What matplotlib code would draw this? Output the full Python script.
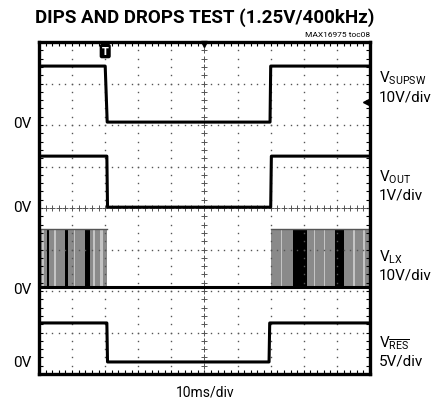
import numpy as np
import matplotlib
matplotlib.use('Agg')
import matplotlib.pyplot as plt
from matplotlib.ticker import MultipleLocator

plt.rcParams['font.family'] = ['Roboto', 'DejaVu Sans']
plt.rcParams['mathtext.fontset'] = 'custom'
plt.rcParams['mathtext.rm'] = 'Roboto'

# traces, x in divisions (10ms/div), y in screen divisions from the bottom
t_sup = [0, 2.0, 2.06, 6.98, 7.0, 10]
v_sup = [7.42, 7.42, 6.07, 6.07, 7.42, 7.42]
t_out = [0, 2.05, 2.07, 7.0, 7.02, 10]
v_out = [5.25, 5.25, 4.02, 4.02, 5.25, 5.25]
t_res = [0, 2.05, 2.07, 6.95, 6.97, 10]
v_res = [1.23, 1.23, 0.29, 0.29, 1.23, 1.23]

# LX switching node: bursts of switching between low and top level
lx_low = 2.10
lx_top = 3.49
lx_bursts = [(0.0, 2.05), (7.0, 10.0)]
lx_dark = [(0.24, 0.30), (0.79, 0.88), (1.39, 1.54), (7.67, 8.10), (8.94, 9.20)]
lx_light = [(0.10, 0.14), (0.45, 0.50), (1.05, 1.10), (1.62, 1.70), (1.85, 1.92),
            (7.30, 7.35), (8.30, 8.34), (8.60, 8.65), (9.50, 9.55), (9.80, 9.85)]

zero_levels = [6.05, 4.02, 2.05, 0.3]
ch_labels = [(r'V$_{\mathregular{SUPSW}}$', '10V/div', 78),
             (r'V$_{\mathregular{OUT}}$', '1V/div', 177),
             (r'V$_{\mathregular{LX}}$', '10V/div', 257),
             (r'V$_{\overline{\mathregular{RES}}}$', '5V/div', 343)]

W, H = 435, 410
fig = plt.figure(figsize=(W / 100, H / 100), dpi=100)
ax = fig.add_axes([39 / W, (H - 375) / H, 331 / W, 332 / H])
ax.set_xlim(0, 10)
ax.set_ylim(0, 8)

# graticule
dots = np.arange(0, 10.01, 0.2)
yy = np.arange(0, 8.01, 0.2)
for gx in range(1, 10):
    if gx != 5:
        ax.plot([gx] * len(yy), yy, ls='none', marker='s', ms=1.0, color='#555555', mec='none')
for gy in range(1, 8):
    if gy != 4:
        ax.plot(dots, [gy] * len(dots), ls='none', marker='s', ms=1.0, color='#555555', mec='none')
ax.plot([5] * len(yy), yy, ls='none', marker='+', ms=4, mew=0.7, color='#555555')
ax.plot(dots, [4] * len(dots), ls='none', marker='+', ms=4, mew=0.7, color='#555555')

for sp in ax.spines.values():
    sp.set_linewidth(2.4)
ax.xaxis.set_major_locator(MultipleLocator(1))
ax.xaxis.set_minor_locator(MultipleLocator(0.2))
ax.yaxis.set_major_locator(MultipleLocator(1))
ax.yaxis.set_minor_locator(MultipleLocator(0.2))
ax.tick_params(which='both', direction='in', top=True, right=True, length=3,
               width=0.8, labelbottom=False, labelleft=False)

# LX bursts
for a, b in lx_bursts:
    ax.fill_between([a, b], lx_low, lx_top, color='#8a8a8a', lw=0)
for a, b in lx_dark:
    ax.fill_between([a, b], lx_low, lx_top, color='black', lw=0)
for a, b in lx_light:
    ax.fill_between([a, b], lx_low, lx_top, color='#c4c4c4', lw=0)
for a, b in lx_bursts:
    ax.plot([a, b], [lx_top, lx_top], color='#555555', lw=1.0)
ax.plot([0, 10], [lx_low, lx_low], color='black', lw=2.2)

ax.plot(t_sup, v_sup, color='black', lw=2.2)
ax.plot(t_out, v_out, color='black', lw=2.2)
ax.plot(t_res, v_res, color='black', lw=2.2)

# markers
ax.text(2.0, 7.78, 'T', color='white', fontsize=7, fontweight='bold', ha='center', va='center',
        family='DejaVu Sans',
        bbox=dict(boxstyle='round,pad=0.15', fc='black', ec='black'))
ax.plot([5], [7.95], marker='v', ms=5, color='black', clip_on=False)
ax.plot([9.88], [6.55], marker='<', ms=5, color='black', clip_on=False)

# text
fig.text(205 / W, 1 - 18 / H, 'DIPS AND DROPS TEST (1.25V/400kHz)', ha='center', va='center',
         fontsize=13.5, fontweight='bold')
fig.text(370 / W, 1 - 35 / H, 'MAX16975 toc08', ha='right', va='center', fontsize=6)
for zl in zero_levels:
    py = 375 - zl * 41.5
    fig.text(32 / W, 1 - py / H, '0V', ha='right', va='center', fontsize=11)
for name, scale, py in ch_labels:
    fig.text(379 / W, 1 - py / H, name, ha='left', va='center', fontsize=11)
    fig.text(379 / W, 1 - (py + 19) / H, scale, ha='left', va='center', fontsize=11)
fig.text(205 / W, 1 - 393 / H, '10ms/div', ha='center', va='center', fontsize=10)

fig.savefig('out.png', dpi=100)
